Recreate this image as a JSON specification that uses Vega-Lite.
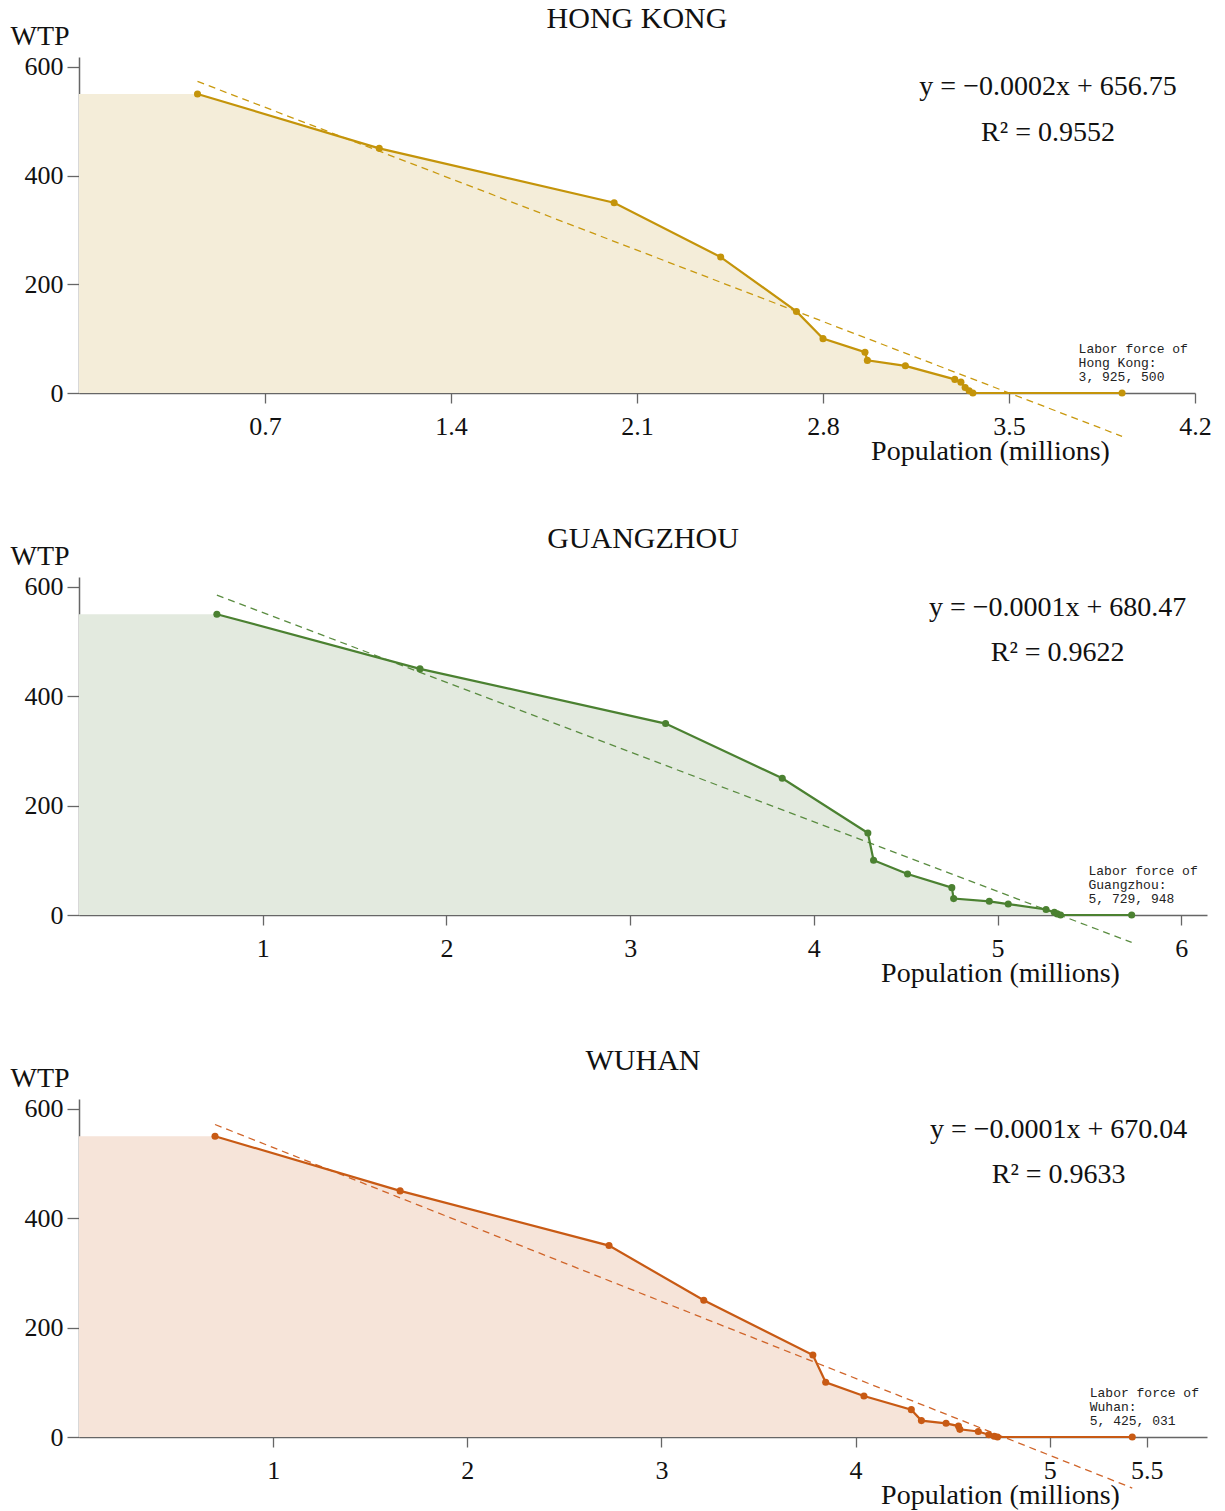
{
  "$schema": "https://vega.github.io/schema/vega-lite/v6.json",
  "padding": {"left": 10, "top": 4, "right": 5, "bottom": 5},
  "background": "white",
  "spacing": 59,
  "datasets": {
    "curve": [
      {"city": "Hong Kong", "kind": "edge", "pop": 0, "wtp": 550},
      {"city": "Hong Kong", "kind": "obs", "pop": 0.446, "wtp": 550},
      {"city": "Hong Kong", "kind": "obs", "pop": 1.130, "wtp": 450},
      {"city": "Hong Kong", "kind": "obs", "pop": 2.014, "wtp": 350},
      {"city": "Hong Kong", "kind": "obs", "pop": 2.415, "wtp": 250},
      {"city": "Hong Kong", "kind": "obs", "pop": 2.700, "wtp": 150},
      {"city": "Hong Kong", "kind": "obs", "pop": 2.800, "wtp": 100},
      {"city": "Hong Kong", "kind": "obs", "pop": 2.958, "wtp": 75},
      {"city": "Hong Kong", "kind": "obs", "pop": 2.967, "wtp": 60},
      {"city": "Hong Kong", "kind": "obs", "pop": 3.110, "wtp": 50},
      {"city": "Hong Kong", "kind": "obs", "pop": 3.296, "wtp": 25},
      {"city": "Hong Kong", "kind": "obs", "pop": 3.319, "wtp": 20},
      {"city": "Hong Kong", "kind": "obs", "pop": 3.335, "wtp": 10},
      {"city": "Hong Kong", "kind": "obs", "pop": 3.350, "wtp": 4},
      {"city": "Hong Kong", "kind": "obs", "pop": 3.364, "wtp": 0},
      {"city": "Hong Kong", "kind": "obs", "pop": 3.9255, "wtp": 0},
      {"city": "Guangzhou", "kind": "edge", "pop": 0, "wtp": 550},
      {"city": "Guangzhou", "kind": "obs", "pop": 0.7505, "wtp": 550},
      {"city": "Guangzhou", "kind": "obs", "pop": 1.856, "wtp": 450},
      {"city": "Guangzhou", "kind": "obs", "pop": 3.193, "wtp": 350},
      {"city": "Guangzhou", "kind": "obs", "pop": 3.828, "wtp": 250},
      {"city": "Guangzhou", "kind": "obs", "pop": 4.294, "wtp": 150},
      {"city": "Guangzhou", "kind": "obs", "pop": 4.325, "wtp": 100},
      {"city": "Guangzhou", "kind": "obs", "pop": 4.510, "wtp": 75},
      {"city": "Guangzhou", "kind": "obs", "pop": 4.751, "wtp": 50},
      {"city": "Guangzhou", "kind": "obs", "pop": 4.761, "wtp": 30},
      {"city": "Guangzhou", "kind": "obs", "pop": 4.955, "wtp": 25},
      {"city": "Guangzhou", "kind": "obs", "pop": 5.058, "wtp": 20},
      {"city": "Guangzhou", "kind": "obs", "pop": 5.264, "wtp": 10},
      {"city": "Guangzhou", "kind": "obs", "pop": 5.309, "wtp": 5},
      {"city": "Guangzhou", "kind": "obs", "pop": 5.325, "wtp": 2},
      {"city": "Guangzhou", "kind": "obs", "pop": 5.343, "wtp": 0},
      {"city": "Guangzhou", "kind": "obs", "pop": 5.7299, "wtp": 0},
      {"city": "Wuhan", "kind": "edge", "pop": 0, "wtp": 550},
      {"city": "Wuhan", "kind": "obs", "pop": 0.7006, "wtp": 550},
      {"city": "Wuhan", "kind": "obs", "pop": 1.654, "wtp": 450},
      {"city": "Wuhan", "kind": "obs", "pop": 2.730, "wtp": 350},
      {"city": "Wuhan", "kind": "obs", "pop": 3.218, "wtp": 250},
      {"city": "Wuhan", "kind": "obs", "pop": 3.780, "wtp": 150},
      {"city": "Wuhan", "kind": "obs", "pop": 3.846, "wtp": 100},
      {"city": "Wuhan", "kind": "obs", "pop": 4.043, "wtp": 75},
      {"city": "Wuhan", "kind": "obs", "pop": 4.287, "wtp": 50},
      {"city": "Wuhan", "kind": "obs", "pop": 4.339, "wtp": 30},
      {"city": "Wuhan", "kind": "obs", "pop": 4.466, "wtp": 25},
      {"city": "Wuhan", "kind": "obs", "pop": 4.530, "wtp": 20},
      {"city": "Wuhan", "kind": "obs", "pop": 4.537, "wtp": 14},
      {"city": "Wuhan", "kind": "obs", "pop": 4.632, "wtp": 10},
      {"city": "Wuhan", "kind": "obs", "pop": 4.686, "wtp": 4},
      {"city": "Wuhan", "kind": "obs", "pop": 4.714, "wtp": 1.5},
      {"city": "Wuhan", "kind": "obs", "pop": 4.731, "wtp": 0},
      {"city": "Wuhan", "kind": "obs", "pop": 5.425, "wtp": 0}
    ],
    "fit": [
      {"city": "Hong Kong", "pop": 0.446, "wtp": 573.1},
      {"city": "Hong Kong", "pop": 3.9255, "wtp": -79.7},
      {"city": "Guangzhou", "pop": 0.7505, "wtp": 584.8},
      {"city": "Guangzhou", "pop": 5.7299, "wtp": -50.0},
      {"city": "Wuhan", "pop": 0.7006, "wtp": 571.4},
      {"city": "Wuhan", "pop": 5.425, "wtp": -93.3}
    ],
    "notes": [
      {"city": "Hong Kong", "kind": "eq", "pop": 3.647, "wtp": 548, "text": "y = −0.0002x + 656.75"},
      {"city": "Hong Kong", "kind": "eq", "pop": 3.647, "wtp": 464, "text": "R² = 0.9552"},
      {"city": "Hong Kong", "kind": "labor", "pop": 3.762, "wtp": 74.2, "text": "Labor force of\nHong Kong:\n3, 925, 500"},
      {"city": "Guangzhou", "kind": "eq", "pop": 5.327, "wtp": 547, "text": "y = −0.0001x + 680.47"},
      {"city": "Guangzhou", "kind": "eq", "pop": 5.327, "wtp": 464.6, "text": "R² = 0.9622"},
      {"city": "Guangzhou", "kind": "labor", "pop": 5.495, "wtp": 73.2, "text": "Labor force of\nGuangzhou:\n5, 729, 948"},
      {"city": "Wuhan", "kind": "eq", "pop": 5.046, "wtp": 547, "text": "y = −0.0001x + 670.04"},
      {"city": "Wuhan", "kind": "eq", "pop": 5.046, "wtp": 464.6, "text": "R² = 0.9633"},
      {"city": "Wuhan", "kind": "labor", "pop": 5.206, "wtp": 72.6, "text": "Labor force of\nWuhan:\n5, 425, 031"}
    ]
  },
  "vconcat": [
    {
      "width": 1116, "height": 336,
      "title": {"text": "HONG KONG"},
      "encoding": {
        "x": {"field": "pop", "type": "quantitative", "scale": {"domain": [0, 4.2], "nice": false, "zero": false},
              "axis": {"values": [0.7, 1.4, 2.1, 2.8, 3.5, 4.2], "format": ".2~g", "title": "Population (millions)", "titleX": 911}},
        "y": {"field": "wtp", "type": "quantitative", "scale": {"domain": [0, 618], "nice": false},
              "axis": {"values": [0, 200, 400, 600], "title": "WTP"}}
      },
      "layer": [
        {"data": {"name": "curve"}, "transform": [{"filter": "datum.city === 'Hong Kong'"}], "mark": {"type": "area", "color": "#f4edd9"}},
        {"data": {"name": "fit"}, "transform": [{"filter": "datum.city === 'Hong Kong'"}], "mark": {"type": "line", "color": "#c9990f", "strokeWidth": 1.3, "strokeDash": [7, 5]}},
        {"data": {"name": "curve"}, "transform": [{"filter": "datum.city === 'Hong Kong' && datum.kind === 'obs'"}], "mark": {"type": "line", "color": "#c4940a", "strokeWidth": 2.2}},
        {"data": {"name": "curve"}, "transform": [{"filter": "datum.city === 'Hong Kong' && datum.kind === 'obs'"}], "mark": {"type": "circle", "color": "#c4940a", "size": 50, "opacity": 1}},
        {"data": {"name": "notes"}, "transform": [{"filter": "datum.city === 'Hong Kong' && datum.kind === 'eq'"}], "mark": {"type": "text", "font": "Liberation Serif", "fontSize": 28, "align": "center", "baseline": "alphabetic", "color": "#111"}, "encoding": {"text": {"field": "text"}}},
        {"data": {"name": "notes"}, "transform": [{"filter": "datum.city === 'Hong Kong' && datum.kind === 'labor'"}], "mark": {"type": "text", "font": "Liberation Mono", "fontSize": 13, "align": "left", "baseline": "alphabetic", "lineBreak": "\n", "lineHeight": 14, "color": "#222"}, "encoding": {"text": {"field": "text"}}}
      ]
    },
    {
      "width": 1128, "height": 338,
      "title": {"text": "GUANGZHOU"},
      "encoding": {
        "x": {"field": "pop", "type": "quantitative", "scale": {"domain": [0, 6.14], "nice": false, "zero": false},
              "axis": {"values": [1, 2, 3, 4, 5, 6], "format": ".2~g", "title": "Population (millions)", "titleX": 921}},
        "y": {"field": "wtp", "type": "quantitative", "scale": {"domain": [0, 618], "nice": false},
              "axis": {"values": [0, 200, 400, 600], "title": "WTP"}}
      },
      "layer": [
        {"data": {"name": "curve"}, "transform": [{"filter": "datum.city === 'Guangzhou'"}], "mark": {"type": "area", "color": "#e3eadf"}},
        {"data": {"name": "fit"}, "transform": [{"filter": "datum.city === 'Guangzhou'"}], "mark": {"type": "line", "color": "#5a8c40", "strokeWidth": 1.3, "strokeDash": [7, 5]}},
        {"data": {"name": "curve"}, "transform": [{"filter": "datum.city === 'Guangzhou' && datum.kind === 'obs'"}], "mark": {"type": "line", "color": "#4b8131", "strokeWidth": 2.2}},
        {"data": {"name": "curve"}, "transform": [{"filter": "datum.city === 'Guangzhou' && datum.kind === 'obs'"}], "mark": {"type": "circle", "color": "#4b8131", "size": 50, "opacity": 1}},
        {"data": {"name": "notes"}, "transform": [{"filter": "datum.city === 'Guangzhou' && datum.kind === 'eq'"}], "mark": {"type": "text", "font": "Liberation Serif", "fontSize": 28, "align": "center", "baseline": "alphabetic", "color": "#111"}, "encoding": {"text": {"field": "text"}}},
        {"data": {"name": "notes"}, "transform": [{"filter": "datum.city === 'Guangzhou' && datum.kind === 'labor'"}], "mark": {"type": "text", "font": "Liberation Mono", "fontSize": 13, "align": "left", "baseline": "alphabetic", "lineBreak": "\n", "lineHeight": 14, "color": "#222"}, "encoding": {"text": {"field": "text"}}}
      ]
    },
    {
      "width": 1128, "height": 338,
      "title": {"text": "WUHAN"},
      "encoding": {
        "x": {"field": "pop", "type": "quantitative", "scale": {"domain": [0, 5.81], "nice": false, "zero": false},
              "axis": {"values": [1, 2, 3, 4, 5, 5.5], "format": ".2~g", "title": "Population (millions)", "titleX": 921}},
        "y": {"field": "wtp", "type": "quantitative", "scale": {"domain": [0, 618], "nice": false},
              "axis": {"values": [0, 200, 400, 600], "title": "WTP"}}
      },
      "layer": [
        {"data": {"name": "curve"}, "transform": [{"filter": "datum.city === 'Wuhan'"}], "mark": {"type": "area", "color": "#f6e4d9"}},
        {"data": {"name": "fit"}, "transform": [{"filter": "datum.city === 'Wuhan'"}], "mark": {"type": "line", "color": "#d0652a", "strokeWidth": 1.3, "strokeDash": [7, 5]}},
        {"data": {"name": "curve"}, "transform": [{"filter": "datum.city === 'Wuhan' && datum.kind === 'obs'"}], "mark": {"type": "line", "color": "#c85a14", "strokeWidth": 2.2}},
        {"data": {"name": "curve"}, "transform": [{"filter": "datum.city === 'Wuhan' && datum.kind === 'obs'"}], "mark": {"type": "circle", "color": "#c85a14", "size": 50, "opacity": 1}},
        {"data": {"name": "notes"}, "transform": [{"filter": "datum.city === 'Wuhan' && datum.kind === 'eq'"}], "mark": {"type": "text", "font": "Liberation Serif", "fontSize": 28, "align": "center", "baseline": "alphabetic", "color": "#111"}, "encoding": {"text": {"field": "text"}}},
        {"data": {"name": "notes"}, "transform": [{"filter": "datum.city === 'Wuhan' && datum.kind === 'labor'"}], "mark": {"type": "text", "font": "Liberation Mono", "fontSize": 13, "align": "left", "baseline": "alphabetic", "lineBreak": "\n", "lineHeight": 14, "color": "#222"}, "encoding": {"text": {"field": "text"}}}
      ]
    }
  ],
  "config": {
    "view": {"stroke": null},
    "font": "Liberation Serif",
    "title": {"font": "Liberation Serif", "fontSize": 30, "fontWeight": "normal", "color": "#111", "anchor": "middle", "frame": "group", "offset": -12, "baseline": "alphabetic"},
    "axis": {
      "grid": false, "domainColor": "#666", "domainWidth": 1.5, "tickColor": "#666", "tickWidth": 1.3,
      "labelFont": "Liberation Serif", "labelFontSize": 26, "labelColor": "#111", "labelFlush": false, "labelOverlap": false,
      "titleFont": "Liberation Serif", "titleFontSize": 28, "titleFontWeight": "normal", "titleColor": "#111"
    },
    "axisX": {"tickSize": 10, "labelPadding": 10, "titleY": 66, "titleAlign": "center", "titleBaseline": "alphabetic"},
    "axisY": {"tickSize": 12, "labelPadding": 4, "titleAngle": 0, "titleAlign": "left", "titleX": -69, "titleY": -13, "titleBaseline": "alphabetic"}
  }
}
